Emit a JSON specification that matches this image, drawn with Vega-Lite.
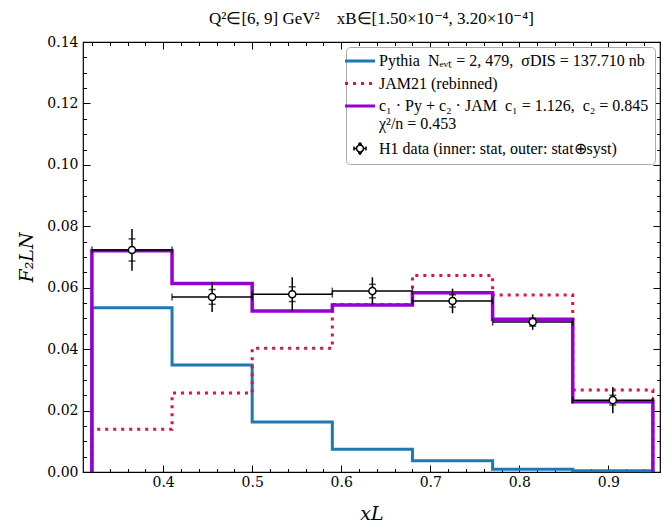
{
  "$schema": "https://vega.github.io/schema/vega-lite/v6.json",
  "width": 577,
  "height": 430,
  "autosize": {"type": "none"},
  "padding": {"left": 83, "top": 42, "right": 2, "bottom": 54},
  "background": "white",
  "title": {
    "text": "Q²∈[6, 9] GeV²\u00a0\u00a0\u00a0\u00a0xB∈[1.50×10⁻⁴, 3.20×10⁻⁴]",
    "font": "Liberation Serif",
    "fontSize": 17,
    "fontWeight": "normal",
    "color": "black",
    "anchor": "middle",
    "offset": 7
  },
  "datasets": {
    "curves": [
      {"series": "Pythia", "x": 0.32, "y": 0},
      {"series": "Pythia", "x": 0.32, "y": 0.0535},
      {"series": "Pythia", "x": 0.41, "y": 0.0348},
      {"series": "Pythia", "x": 0.50, "y": 0.0163},
      {"series": "Pythia", "x": 0.59, "y": 0.0074},
      {"series": "Pythia", "x": 0.68, "y": 0.0037},
      {"series": "Pythia", "x": 0.77, "y": 0.0009},
      {"series": "Pythia", "x": 0.86, "y": 0.0004},
      {"series": "Pythia", "x": 0.95, "y": 0.0004},
      {"series": "Pythia", "x": 0.95, "y": 0},
      {"series": "JAM21", "x": 0.32, "y": 0},
      {"series": "JAM21", "x": 0.32, "y": 0.0139},
      {"series": "JAM21", "x": 0.41, "y": 0.0257},
      {"series": "JAM21", "x": 0.50, "y": 0.0403},
      {"series": "JAM21", "x": 0.59, "y": 0.0545},
      {"series": "JAM21", "x": 0.68, "y": 0.0640},
      {"series": "JAM21", "x": 0.77, "y": 0.0576},
      {"series": "JAM21", "x": 0.86, "y": 0.0267},
      {"series": "JAM21", "x": 0.95, "y": 0.0267},
      {"series": "JAM21", "x": 0.95, "y": 0},
      {"series": "fit", "x": 0.32, "y": 0},
      {"series": "fit", "x": 0.32, "y": 0.0720},
      {"series": "fit", "x": 0.41, "y": 0.0614},
      {"series": "fit", "x": 0.50, "y": 0.0524},
      {"series": "fit", "x": 0.59, "y": 0.0544},
      {"series": "fit", "x": 0.68, "y": 0.0584},
      {"series": "fit", "x": 0.77, "y": 0.0497},
      {"series": "fit", "x": 0.86, "y": 0.0229},
      {"series": "fit", "x": 0.95, "y": 0.0229},
      {"series": "fit", "x": 0.95, "y": 0}
    ],
    "h1": [
      {"x": 0.365, "lo": 0.32, "hi": 0.41, "y": 0.0723, "s_lo": 0.0687, "s_hi": 0.0759, "t_lo": 0.0655, "t_hi": 0.0791},
      {"x": 0.455, "lo": 0.41, "hi": 0.50, "y": 0.0570, "s_lo": 0.0546, "s_hi": 0.0594, "t_lo": 0.0521, "t_hi": 0.0619},
      {"x": 0.545, "lo": 0.50, "hi": 0.59, "y": 0.0579, "s_lo": 0.0555, "s_hi": 0.0603, "t_lo": 0.0524, "t_hi": 0.0634},
      {"x": 0.635, "lo": 0.59, "hi": 0.68, "y": 0.0589, "s_lo": 0.0567, "s_hi": 0.0611, "t_lo": 0.0545, "t_hi": 0.0634},
      {"x": 0.725, "lo": 0.68, "hi": 0.77, "y": 0.0557, "s_lo": 0.0537, "s_hi": 0.0577, "t_lo": 0.0517, "t_hi": 0.0597},
      {"x": 0.815, "lo": 0.77, "hi": 0.86, "y": 0.0488, "s_lo": 0.0475, "s_hi": 0.0501, "t_lo": 0.0463, "t_hi": 0.0513},
      {"x": 0.905, "lo": 0.86, "hi": 0.95, "y": 0.0234, "s_lo": 0.0218, "s_hi": 0.0250, "t_lo": 0.0191, "t_hi": 0.0277}
    ]
  },
  "config": {
    "view": {"stroke": "black", "strokeWidth": 1.2},
    "axis": {
      "domain": false,
      "grid": false,
      "tickColor": "black",
      "tickWidth": 1,
      "labelFont": "DejaVu Serif",
      "labelFontSize": 14,
      "labelColor": "black",
      "titleColor": "black",
      "titleFontWeight": "normal"
    },
    "legend": {
      "orient": "top-right",
      "offset": 5,
      "padding": 6,
      "strokeColor": "#aaaaaa",
      "fillColor": "white",
      "cornerRadius": 4,
      "symbolType": "stroke",
      "symbolSize": 900,
      "symbolStrokeWidth": 3,
      "labelFont": "Liberation Serif",
      "labelFontSize": 16,
      "labelColor": "black",
      "labelLimit": 0,
      "labelOffset": 11,
      "rowPadding": 6.5
    }
  },
  "resolve": {"axis": {"x": "independent", "y": "independent"}},
  "layer": [
    {
      "data": {"name": "curves"},
      "transform": [{"filter": "datum.series === 'Pythia'"}],
      "mark": {"type": "line", "interpolate": "step-after", "strokeWidth": 3, "strokeJoin": "miter"},
      "encoding": {
        "x": {
          "field": "x", "type": "quantitative",
          "scale": {"domain": [0.31, 0.958], "nice": false, "zero": false},
          "axis": {
            "orient": "bottom",
            "values": [0.4, 0.5, 0.6, 0.7, 0.8, 0.9],
            "format": ".1f",
            "tickSize": -7,
            "labelPadding": 10,
            "title": "xL",
            "titleFont": "DejaVu Serif",
            "titleFontStyle": "italic",
            "titleFontSize": 19,
            "titlePadding": 15
          }
        },
        "y": {
          "field": "y", "type": "quantitative",
          "scale": {"domain": [0, 0.14], "nice": false, "zero": false},
          "axis": {
            "orient": "left",
            "values": [0, 0.02, 0.04, 0.06, 0.08, 0.1, 0.12, 0.14],
            "format": ".2f",
            "tickSize": -7,
            "labelPadding": 12,
            "title": "F₂LN",
            "titleFont": "DejaVu Serif",
            "titleFontStyle": "italic",
            "titleFontSize": 19,
            "titlePadding": 10
          }
        },
        "stroke": {
          "field": "series", "type": "nominal",
          "scale": {
            "domain": ["Pythia", "JAM21", "fit", "H1"],
            "range": ["#1f77b4", "#dc143c", "#9400d3", "black"]
          },
          "legend": {
            "title": null,
            "labelExpr": "datum.value === 'Pythia' ? 'Pythia\u00a0\u00a0Nₑᵥₜ = 2, 479,\u00a0\u00a0σDIS = 137.710 nb' : datum.value === 'JAM21' ? 'JAM21 (rebinned)' : datum.value === 'fit' ? ['c₁ · Py + c₂ · JAM\u00a0\u00a0c₁ = 1.126,\u00a0\u00a0c₂ = 0.845', 'χ²/n = 0.453'] : 'H1 data (inner: stat, outer: stat⊕syst)'",
            "encode": {
              "symbols": {
                "update": {
                  "shape": {"signal": "datum.value === 'H1' ? 'M -0.23 0 A 0.23 0.23 0 1 0 0.23 0 A 0.23 0.23 0 1 0 -0.23 0 Z M -0.4 0 L -0.23 0 M 0.23 0 L 0.4 0 M 0 -0.43 L 0 -0.23 M 0 0.23 L 0 0.43 M -0.4 -0.13 L -0.4 0.13 M 0.4 -0.13 L 0.4 0.13 M -0.13 -0.3 L 0.13 -0.3 M -0.13 0.3 L 0.13 0.3' : 'stroke'"},
                  "strokeDash": {"signal": "datum.value === 'JAM21' ? [3, 5] : [1, 0]"},
                  "strokeWidth": {"signal": "datum.value === 'H1' ? 1.5 : 3"},
                  "fill": {"signal": "datum.value === 'H1' ? 'white' : 'transparent'"},
                  "opacity": {"value": 1}
                }
              }
            }
          }
        },
        "order": {"value": null}
      }
    },
    {
      "data": {"name": "curves"},
      "transform": [{"filter": "datum.series === 'JAM21'"}],
      "mark": {"type": "line", "interpolate": "step-after", "strokeWidth": 3, "strokeDash": [3, 5], "strokeCap": "butt"},
      "encoding": {
        "x": {
          "field": "x", "type": "quantitative",
          "scale": {"domain": [0.31, 0.958], "nice": false, "zero": false},
          "axis": {
            "orient": "bottom",
            "values": [0.32, 0.34, 0.36, 0.38, 0.42, 0.44, 0.46, 0.48, 0.52, 0.54, 0.56, 0.58, 0.62, 0.64, 0.66, 0.68, 0.72, 0.74, 0.76, 0.78, 0.82, 0.84, 0.86, 0.88, 0.92, 0.94],
            "labels": false,
            "tickSize": -3.5,
            "title": null
          }
        },
        "y": {
          "field": "y", "type": "quantitative",
          "scale": {"domain": [0, 0.14], "nice": false, "zero": false},
          "axis": {
            "orient": "left",
            "values": [0.005, 0.01, 0.015, 0.025, 0.03, 0.035, 0.045, 0.05, 0.055, 0.065, 0.07, 0.075, 0.085, 0.09, 0.095, 0.105, 0.11, 0.115, 0.125, 0.13, 0.135],
            "labels": false,
            "tickSize": -3.5,
            "title": null
          }
        },
        "stroke": {"field": "series", "type": "nominal", "legend": null},
        "order": {"value": null}
      }
    },
    {
      "data": {"name": "curves"},
      "transform": [{"filter": "datum.series === 'fit'"}],
      "mark": {"type": "line", "interpolate": "step-after", "strokeWidth": 3.5, "strokeJoin": "miter"},
      "encoding": {
        "x": {
          "field": "x", "type": "quantitative",
          "scale": {"domain": [0.31, 0.958], "nice": false, "zero": false},
          "axis": {
            "orient": "top",
            "values": [0.4, 0.5, 0.6, 0.7, 0.8, 0.9],
            "labels": false,
            "tickSize": -7,
            "title": null
          }
        },
        "y": {
          "field": "y", "type": "quantitative",
          "scale": {"domain": [0, 0.14], "nice": false, "zero": false},
          "axis": {
            "orient": "right",
            "values": [0, 0.02, 0.04, 0.06, 0.08, 0.1, 0.12, 0.14],
            "labels": false,
            "tickSize": -7,
            "title": null
          }
        },
        "stroke": {"field": "series", "type": "nominal", "legend": null},
        "order": {"value": null}
      }
    },
    {
      "data": {"name": "h1"},
      "mark": {"type": "rule", "color": "black", "strokeWidth": 1.5},
      "encoding": {
        "x": {
          "field": "lo", "type": "quantitative",
          "scale": {"domain": [0.31, 0.958], "nice": false, "zero": false},
          "axis": {
            "orient": "top",
            "values": [0.32, 0.34, 0.36, 0.38, 0.42, 0.44, 0.46, 0.48, 0.52, 0.54, 0.56, 0.58, 0.62, 0.64, 0.66, 0.68, 0.72, 0.74, 0.76, 0.78, 0.82, 0.84, 0.86, 0.88, 0.92, 0.94],
            "labels": false,
            "tickSize": -3.5,
            "title": null
          }
        },
        "x2": {"field": "hi"},
        "y": {
          "field": "y", "type": "quantitative",
          "scale": {"domain": [0, 0.14], "nice": false, "zero": false},
          "axis": {
            "orient": "right",
            "values": [0.005, 0.01, 0.015, 0.025, 0.03, 0.035, 0.045, 0.05, 0.055, 0.065, 0.07, 0.075, 0.085, 0.09, 0.095, 0.105, 0.11, 0.115, 0.125, 0.13, 0.135],
            "labels": false,
            "tickSize": -3.5,
            "title": null
          }
        }
      }
    },
    {
      "data": {"name": "h1"},
      "mark": {"type": "tick", "orient": "vertical", "color": "black", "thickness": 1.5, "size": 7},
      "encoding": {
        "x": {"field": "lo", "type": "quantitative", "scale": {"domain": [0.31, 0.958], "nice": false, "zero": false}, "axis": null},
        "y": {"field": "y", "type": "quantitative", "scale": {"domain": [0, 0.14], "nice": false, "zero": false}, "axis": null}
      }
    },
    {
      "data": {"name": "h1"},
      "mark": {"type": "tick", "orient": "vertical", "color": "black", "thickness": 1.5, "size": 7},
      "encoding": {
        "x": {"field": "hi", "type": "quantitative", "scale": {"domain": [0.31, 0.958], "nice": false, "zero": false}, "axis": null},
        "y": {"field": "y", "type": "quantitative", "scale": {"domain": [0, 0.14], "nice": false, "zero": false}, "axis": null}
      }
    },
    {
      "data": {"name": "h1"},
      "mark": {"type": "rule", "color": "black", "strokeWidth": 1.5},
      "encoding": {
        "x": {"field": "x", "type": "quantitative", "scale": {"domain": [0.31, 0.958], "nice": false, "zero": false}, "axis": null},
        "y": {"field": "t_lo", "type": "quantitative", "scale": {"domain": [0, 0.14], "nice": false, "zero": false}, "axis": null},
        "y2": {"field": "t_hi"}
      }
    },
    {
      "data": {"name": "h1"},
      "mark": {"type": "tick", "orient": "horizontal", "color": "black", "thickness": 1.5, "size": 7},
      "encoding": {
        "x": {"field": "x", "type": "quantitative", "scale": {"domain": [0.31, 0.958], "nice": false, "zero": false}, "axis": null},
        "y": {"field": "s_lo", "type": "quantitative", "scale": {"domain": [0, 0.14], "nice": false, "zero": false}, "axis": null}
      }
    },
    {
      "data": {"name": "h1"},
      "mark": {"type": "tick", "orient": "horizontal", "color": "black", "thickness": 1.5, "size": 7},
      "encoding": {
        "x": {"field": "x", "type": "quantitative", "scale": {"domain": [0.31, 0.958], "nice": false, "zero": false}, "axis": null},
        "y": {"field": "s_hi", "type": "quantitative", "scale": {"domain": [0, 0.14], "nice": false, "zero": false}, "axis": null}
      }
    },
    {
      "data": {"name": "h1"},
      "mark": {"type": "point", "shape": "circle", "filled": true, "fill": "white", "stroke": "black", "strokeWidth": 1.5, "size": 50, "opacity": 1},
      "encoding": {
        "x": {"field": "x", "type": "quantitative", "scale": {"domain": [0.31, 0.958], "nice": false, "zero": false}, "axis": null},
        "y": {"field": "y", "type": "quantitative", "scale": {"domain": [0, 0.14], "nice": false, "zero": false}, "axis": null}
      }
    }
  ]
}
